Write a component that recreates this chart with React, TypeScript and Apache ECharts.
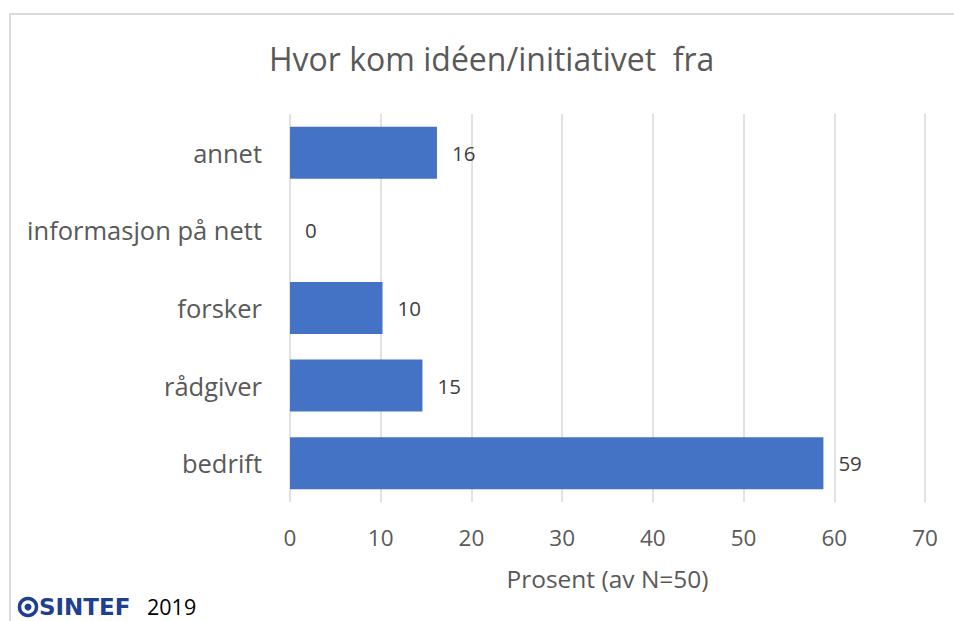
import React, { useEffect, useRef } from "react";
import * as echarts from "echarts";

const categories = ["bedrift", "rådgiver", "forsker", "informasjon på nett", "annet"];
const values = [58.8, 14.6, 10.2, 0, 16.2];
const titleText = "Hvor kom idéen/initiativet  fra";
const axisName = "Prosent (av N=50)";
const footerYear = "2019";

const FONT = "'Open Sans', 'DejaVu Sans', sans-serif";

export default function App() {
  const ref = useRef<HTMLDivElement>(null);
  useEffect(() => {
    if (!ref.current) return;
    const chart = echarts.init(ref.current, undefined, { renderer: "svg" });
    chart.setOption({
      animation: false,
      backgroundColor: "#ffffff",
      textStyle: { fontFamily: FONT },
      title: {
        text: titleText,
        left: 264,
        top: 37,
        textStyle: { fontFamily: FONT, fontSize: 32, fontWeight: "normal", color: "#595959" },
      },
      grid: { left: 290, right: 29, top: 114, height: 388 },
      xAxis: {
        type: "value",
        min: 0,
        max: 70,
        interval: 10,
        name: axisName,
        nameLocation: "middle",
        nameGap: 64,
        nameTextStyle: { fontFamily: FONT, fontSize: 24.5, color: "#595959" },
        axisLine: { show: false },
        axisTick: { show: false },
        axisLabel: { fontFamily: FONT, fontSize: 22.5, color: "#595959", margin: 24 },
        splitLine: { lineStyle: { color: "#d9d9d9", width: 1.5 } },
      },
      yAxis: {
        type: "category",
        data: categories,
        axisLine: { show: false },
        axisTick: { show: false },
        axisLabel: { fontFamily: FONT, fontSize: 25.5, color: "#595959", margin: 28 },
      },
      series: [
        {
          type: "bar",
          data: values,
          barCategoryGap: "33%",
          itemStyle: { color: "#4472c4" },
          label: {
            show: true,
            position: "right",
            distance: 15,
            fontFamily: FONT,
            fontSize: 20.5,
            color: "#404040",
            formatter: (p: any) => Math.round(p.value).toString(),
          },
        },
      ],
      graphic: [
        {
          type: "rect",
          shape: { x: 10, y: 14, width: 960, height: 640 },
          style: { fill: "none", stroke: "#d9d9d9", lineWidth: 2 },
          silent: true,
        },
        {
          type: "circle",
          shape: { cx: 28, cy: 607, r: 8.5 },
          style: { fill: "none", stroke: "#1f3f8f", lineWidth: 3.5 },
        },
        {
          type: "circle",
          shape: { cx: 28, cy: 607, r: 3.5 },
          style: { fill: "#1f3f8f" },
        },
        {
          type: "text",
          x: 39,
          y: 607,
          style: {
            text: "SINTEF",
            fontFamily: "'DejaVu Sans', sans-serif",
            fontSize: 23,
            fontWeight: "bold",
            fill: "#1f3f8f",
            verticalAlign: "middle",
          },
        },
        {
          type: "text",
          x: 147,
          y: 606,
          style: {
            text: footerYear,
            fontFamily: FONT,
            fontSize: 21.5,
            fill: "#000000",
            verticalAlign: "middle",
          },
        },
      ],
    });
    return () => chart.dispose();
  }, []);
  return (
    <div
      ref={ref}
      style={{ position: "fixed", left: 0, top: 0, width: 954, height: 621 }}
    />
  );
}
